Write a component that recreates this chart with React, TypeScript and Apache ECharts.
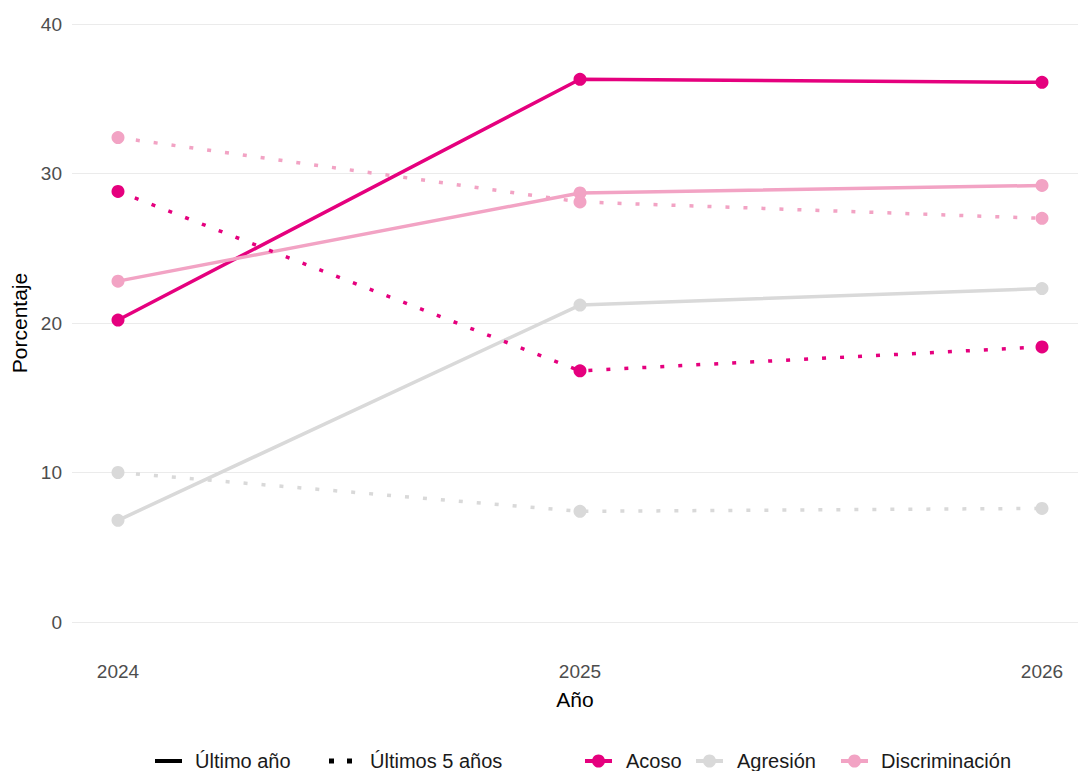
import React, { useEffect, useRef } from "react";
import * as echarts from "echarts";

const years = [2024, 2025, 2026];
const yTicks = [0, 10, 20, 30, 40];
const acosoUltimo = [20.2, 36.3, 36.1];
const acoso5 = [28.8, 16.8, 18.4];
const agresionUltimo = [6.8, 21.2, 22.3];
const agresion5 = [10.0, 7.4, 7.6];
const discUltimo = [22.8, 28.7, 29.2];
const disc5 = [32.4, 28.1, 27.0];

const categories = ["Acoso", "Agresión", "Discriminación"];
const periods = ["Último año", "Últimos 5 años"];

const COLORS: Record<string, string> = {
  Acoso: "#e5007e",
  "Agresión": "#d9d9d9",
  "Discriminación": "#f2a3c4",
};

const FONT = "Liberation Sans, Arial, sans-serif";

function pair(vals: number[]) {
  return years.map((y, i) => [y, vals[i]]);
}

export default function App() {
  const ref = useRef<HTMLDivElement>(null);
  useEffect(() => {
    if (!ref.current) return;
    const chart = echarts.init(ref.current, undefined, { renderer: "svg" });
    const mk = (name: string, vals: number[], dotted: boolean) => ({
      name,
      type: "line",
      data: pair(vals),
      symbol: "circle",
      symbolSize: 13,
      color: COLORS[name],
      lineStyle: { width: 3.5, color: COLORS[name], type: dotted ? [4, 14] : "solid", cap: "butt" },
      itemStyle: { color: COLORS[name] },
      emphasis: { disabled: true },
      z: 2,
    });
    const series: any[] = [
      mk("Acoso", acosoUltimo, false),
      mk("Agresión", agresionUltimo, false),
      mk("Discriminación", discUltimo, false),
      mk("Acoso", acoso5, true),
      mk("Agresión", agresion5, true),
      mk("Discriminación", disc5, true),
    ];

    const LY = 761;
    const legendText = (text: string, x: number) => ({
      type: "text",
      x,
      y: LY,
      style: {
        text,
        fill: "#1a1a1a",
        fontSize: 20,
        fontFamily: FONT,
        verticalAlign: "middle",
        align: "left",
      },
    });
    const colorItem = (name: string, x0: number, tx: number) => [
      {
        type: "line",
        shape: { x1: x0, y1: LY, x2: x0 + 27, y2: LY },
        style: { stroke: COLORS[name], lineWidth: 4 },
      },
      {
        type: "circle",
        shape: { cx: x0 + 13.5, cy: LY, r: 6.5 },
        style: { fill: COLORS[name] },
      },
      legendText(name, tx),
    ];
    const graphic: any[] = [
      {
        type: "line",
        shape: { x1: 155, y1: LY, x2: 182, y2: LY },
        style: { stroke: "#000", lineWidth: 4 },
      },
      legendText(periods[0], 195),
      { type: "rect", shape: { x: 329, y: LY - 2.5, width: 5, height: 5 }, style: { fill: "#000" } },
      { type: "rect", shape: { x: 347, y: LY - 2.5, width: 5, height: 5 }, style: { fill: "#000" } },
      legendText(periods[1], 370),
      ...colorItem(categories[0], 585, 626),
      ...colorItem(categories[1], 696, 737),
      ...colorItem(categories[2], 841, 881),
    ];

    chart.setOption({
      animation: false,
      textStyle: { fontFamily: FONT },
      grid: { left: 72, right: 0, top: 24, bottom: 149, containLabel: false },
      xAxis: {
        type: "value",
        min: 2024 - 46 / 462,
        max: 2026 + 36 / 462,
        axisLine: { show: false },
        axisTick: { show: false },
        splitLine: { show: false },
        axisLabel: {
          customValues: years,
          formatter: (v: number) => String(Math.round(v)),
          color: "#4d4d4d",
          fontSize: 19,
          fontFamily: FONT,
          margin: 40,
        },
        name: "Año",
        nameLocation: "middle",
        nameGap: 67,
        nameTextStyle: { color: "#000", fontSize: 21, fontFamily: FONT },
      },
      yAxis: {
        type: "value",
        min: 0,
        max: 40,
        interval: 10,
        axisLine: { show: false },
        axisTick: { show: false },
        splitLine: { show: true, lineStyle: { color: "#ebebeb", width: 1 } },
        axisLabel: {
          formatter: (v: number) => (yTicks.includes(v) ? String(v) : ""),
          color: "#4d4d4d",
          fontSize: 19,
          fontFamily: FONT,
          margin: 10,
        },
        name: "Porcentaje",
        nameLocation: "middle",
        nameRotate: 90,
        nameGap: 40,
        nameTextStyle: { color: "#000", fontSize: 21, fontFamily: FONT },
      },
      graphic,
      series,
    });
    return () => chart.dispose();
  }, []);
  return (
    <div
      ref={ref}
      style={{ position: "fixed", left: 0, top: 0, width: 1078, height: 771, background: "#fff" }}
    />
  );
}
